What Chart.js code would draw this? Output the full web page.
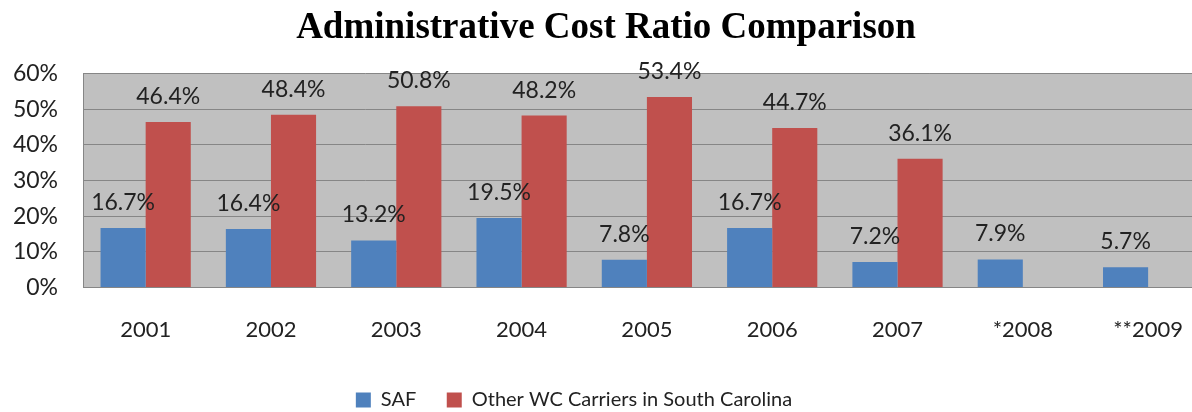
<!DOCTYPE html>
<html>
<head>
<meta charset="utf-8">
<script src="https://cdn.jsdelivr.net/npm/chart.js@4/dist/chart.umd.min.js"></script>
<style>
  html, body { margin: 0; padding: 0; background: #fff; overflow: hidden; }
  #wrap { width: 1212px; height: 412px; }
</style>
</head>
<body>
<div id="wrap"><canvas id="costChart" width="1212" height="412"></canvas></div>
<script>
// years on the x axis
const years = ["2001", "2002", "2003", "2004", "2005", "2006", "2007", "*2008", "**2009"];

// admin cost ratio, percent
const safRatio = [16.7, 16.4, 13.2, 19.5, 7.8, 16.7, 7.2, 7.9, 5.7];
const otherRatio = [46.4, 48.4, 50.8, 48.2, 53.4, 44.7, 36.1, null, null];

const yTicks = [0, 10, 20, 30, 40, 50, 60];

const FONT = "Lato";

// grey plot background like the old excel chart
const plotBg = {
  id: "plotBg",
  beforeDraw(chart) {
    const a = chart.chartArea;
    const ctx = chart.ctx;
    ctx.save();
    ctx.fillStyle = "#c0c0c0";
    ctx.fillRect(a.left, a.top, a.right - a.left, a.bottom - a.top);
    ctx.restore();
  },
};

// value labels above each bar
const barLabels = {
  id: "barLabels",
  afterDatasetsDraw(chart) {
    const ctx = chart.ctx;
    ctx.save();
    ctx.font = "23px " + FONT;
    ctx.fillStyle = "#222";
    ctx.textAlign = "center";
    ctx.textBaseline = "alphabetic";
    chart.data.datasets.forEach((ds, i) => {
      chart.getDatasetMeta(i).data.forEach((bar, j) => {
        const v = ds.data[j];
        if (v == null) return;
        ctx.fillText(v.toFixed(1) + "%", bar.x, bar.y - 18);
      });
    });
    ctx.restore();
  },
};

// legend sits a bit left and lower in the original
const legendShift = {
  id: "legendShift",
  afterLayout(chart) {
    const lg = chart.legend;
    lg.left -= 32;
    lg.right -= 32;
    lg.top += 8;
    lg.bottom += 8;
  },
};

const ctx = document.getElementById("costChart").getContext("2d");
const chart = new Chart(ctx, {
  type: "bar",
  data: {
    labels: years,
    datasets: [
      {
        label: "SAF",
        data: safRatio,
        backgroundColor: "#4f81bd",
        borderWidth: 0,
      },
      {
        label: "Other WC Carriers in South Carolina",
        data: otherRatio,
        backgroundColor: "#c0504d",
        borderWidth: 0,
      },
    ],
  },
  options: {
    responsive: false,
    animation: false,
    devicePixelRatio: 1,
    layout: { padding: 0 },
    datasets: {
      bar: { categoryPercentage: 0.72, barPercentage: 1 },
    },
    plugins: {
      title: {
        display: true,
        text: "Administrative Cost Ratio Comparison",
        color: "#000",
        font: { family: "Liberation Serif", size: 37, weight: "bold" },
        padding: { top: 6, bottom: 23 },
      },
      legend: {
        position: "bottom",
        labels: {
          color: "#222",
          font: { family: FONT, size: 20 },
          boxWidth: 15,
          boxHeight: 15,
          padding: 10,
          // wider gap between the two entries, like excel
          generateLabels(chart) {
            const items = Chart.defaults.plugins.legend.labels.generateLabels(chart);
            items[0].text = items[0].text + "    ";
            return items;
          },
        },
      },
      tooltip: { enabled: false },
    },
    scales: {
      x: {
        grid: { display: false, drawTicks: false },
        border: { display: true, color: "#868686", width: 1 },
        ticks: {
          color: "#222",
          font: { family: FONT, size: 22 },
          padding: 29,
          autoSkip: false,
          maxRotation: 0,
        },
      },
      y: {
        min: 0,
        max: 60,
        afterBuildTicks(scale) {
          scale.ticks = yTicks.map((v) => ({ value: v }));
        },
        grid: { color: "#868686", lineWidth: 1, drawTicks: false },
        border: { display: true, color: "#868686", width: 1 },
        ticks: {
          color: "#222",
          font: { family: FONT, size: 23 },
          padding: 25,
          callback: (v) => v + "%",
        },
        afterFit(scale) {
          scale.width = 83;
        },
      },
    },
  },
  plugins: [plotBg, barLabels, legendShift],
});
</script>
</body>
</html>
